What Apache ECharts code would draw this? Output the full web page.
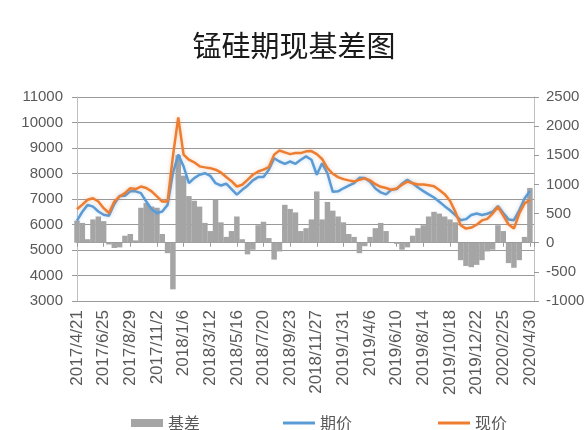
<!DOCTYPE html>
<html><head><meta charset="utf-8">
<script src="https://cdn.jsdelivr.net/npm/echarts@6/dist/echarts.min.js"></script>
<style>html,body{margin:0;padding:0;background:#fff}#c{width:588px;height:430px}</style>
</head><body><div id="c"></div>
<script>
const dates = ['2017/4/21','2017/5/4','2017/5/17','2017/5/30','2017/6/12','2017/6/25','2017/7/8','2017/7/21','2017/8/3','2017/8/16',
'2017/8/29','2017/9/11','2017/9/24','2017/10/7','2017/10/20','2017/11/2','2017/11/15','2017/11/28','2017/12/11','2017/12/24',
'2018/1/6','2018/1/19','2018/2/1','2018/2/14','2018/2/27','2018/3/12','2018/3/25','2018/4/7','2018/4/20','2018/5/3',
'2018/5/16','2018/5/29','2018/6/11','2018/6/24','2018/7/7','2018/7/20','2018/8/2','2018/8/15','2018/8/28','2018/9/10',
'2018/9/23','2018/10/6','2018/10/19','2018/11/1','2018/11/14','2018/11/27','2018/12/10','2018/12/23','2019/1/5','2019/1/18',
'2019/1/31','2019/2/13','2019/2/26','2019/3/11','2019/3/24','2019/4/6','2019/4/19','2019/5/2','2019/5/15','2019/5/28',
'2019/6/10','2019/6/23','2019/7/6','2019/7/19','2019/8/1','2019/8/14','2019/8/27','2019/9/9','2019/9/22','2019/10/5',
'2019/10/18','2019/10/31','2019/11/13','2019/11/26','2019/12/9','2019/12/22','2020/1/4','2020/1/17','2020/1/30','2020/2/12',
'2020/2/25','2020/3/9','2020/3/22','2020/4/4','2020/4/17','2020/4/30'];
const futures = [6150,6500,6770,6700,6510,6380,6340,6800,7120,7130,
7300,7300,7230,6900,6600,6450,6510,6770,8020,8740,
8280,7620,7820,7950,8010,7910,7620,7530,7600,7390,
7170,7360,7520,7730,7860,7860,8150,8600,8470,8380,
8470,8380,8540,8670,8540,7950,8400,8010,7280,7300,
7420,7520,7620,7830,7820,7680,7410,7260,7180,7360,
7390,7600,7750,7620,7450,7310,7180,7060,6890,6720,
6560,6370,6170,6210,6370,6430,6370,6420,6500,6720,
6450,6200,6170,6560,7020,7310];
const spot = [6600,6780,6970,7030,6900,6640,6450,6900,7100,7230,
7420,7390,7490,7430,7300,7100,6900,6900,8670,10200,
8740,8540,8440,8280,8240,8210,8150,8040,7860,7700,
7490,7560,7750,7950,8080,8150,8250,8740,8900,8830,
8760,8800,8800,8870,8880,8760,8570,8210,7990,7860,
7780,7730,7690,7750,7810,7730,7580,7480,7430,7360,
7410,7560,7680,7620,7570,7570,7540,7500,7350,7190,
6930,6500,5970,5840,5880,5990,6160,6220,6430,6690,
6350,6000,5840,6430,6830,6960];
const basis = [380,340,60,400,450,370,-30,-90,-80,120,
150,40,600,680,620,600,150,-180,-800,1500,
1150,800,720,620,340,200,740,350,100,200,
450,60,-200,-120,300,360,80,-290,-150,650,
580,520,200,250,400,880,400,700,550,450,
350,150,100,-180,-60,100,250,340,200,0,
-20,-120,-80,120,250,300,450,530,500,450,
400,350,-300,-400,-420,-380,-300,-150,-120,300,
200,-350,-430,-300,100,940];
const tickLabels = ['2017/4/21','2017/6/25','2017/8/29','2017/11/2','2018/1/6','2018/3/12','2018/5/16','2018/7/20','2018/9/23',
'2018/11/27','2019/1/31','2019/4/6','2019/6/10','2019/8/14','2019/10/18','2019/12/22','2020/2/25','2020/4/30'];
const seriesNames = ['基差','期价','现价'];

function dayOffset(s){
  const p = s.split('/').map(Number), q = dates[0].split('/').map(Number);
  return Math.round((Date.UTC(p[0],p[1]-1,p[2]) - Date.UTC(q[0],q[1]-1,q[2])) / 86400000);
}
const xs = dates.map(dayOffset);
const tickDays = tickLabels.map(dayOffset);
const pairs = arr => arr.map((v,i) => [xs[i], v]);
const legendText = { fontFamily:'Noto Sans CJK SC', fontSize:16, color:'#595959' };

const chart = echarts.init(document.getElementById('c'), null, {renderer:'canvas'});
chart.setOption({
  animation:false,
  backgroundColor:'#fff',
  title:{ text:'锰硅期现基差图', left:'center', top:31, padding:0,
    textStyle:{ fontFamily:'Noto Sans CJK SC', fontSize:29, fontWeight:'normal', color:'#1a1a1a' } },
  legend:[
    { left:131, top:415, padding:0, itemWidth:32, itemHeight:8, icon:'rect',
      textStyle:legendText, data:[seriesNames[0]] },
    { left:283, top:415, padding:0, itemGap:86, itemWidth:32, itemHeight:3, icon:'rect',
      textStyle:legendText, data:[seriesNames[1], seriesNames[2]] }
  ],
  grid:{ left:77, right:54, top:97, bottom:129 },
  xAxis:{ type:'value', min:0, max:1115, interval:65,
    axisLine:{ lineStyle:{ color:'#999' } },
    axisTick:{ show:true, length:4, lineStyle:{ color:'#999' } },
    splitLine:{ show:false },
    axisLabel:{ rotate:90, margin:9, color:'#595959', fontFamily:'Liberation Sans', fontSize:17,
      formatter: v => { const k = tickDays.indexOf(Math.round(v)); return k >= 0 ? tickLabels[k] : ''; } } },
  yAxis:[
    { type:'value', min:3000, max:11000, interval:1000, position:'left',
      axisLine:{ show:true, lineStyle:{ color:'#bfbfbf' } },
      axisTick:{ show:true, length:5, lineStyle:{ color:'#999' } },
      splitLine:{ lineStyle:{ color:'#999', width:1 } },
      axisLabel:{ margin:14, color:'#595959', fontFamily:'Liberation Sans', fontSize:15, formatter: v => String(v) } },
    { type:'value', min:-1000, max:2500, interval:500, position:'right',
      axisLine:{ show:true, lineStyle:{ color:'#bfbfbf' } },
      axisTick:{ show:true, length:5, lineStyle:{ color:'#999' } },
      splitLine:{ show:false },
      axisLabel:{ margin:12, color:'#595959', fontFamily:'Liberation Sans', fontSize:15, formatter: v => String(v) } }
  ],
  series:[
    { name:seriesNames[0], type:'bar', yAxisIndex:1, barWidth:5.5, data:pairs(basis),
      itemStyle:{ color:'#a5a5a5' } },
    { name:seriesNames[1], type:'line', yAxisIndex:0, symbol:'none', data:pairs(futures),
      lineStyle:{ color:'#5b9bd5', width:2.5, shadowColor:'rgba(91,155,213,0.35)', shadowBlur:4 },
      itemStyle:{ color:'#5b9bd5' } },
    { name:seriesNames[2], type:'line', yAxisIndex:0, symbol:'none', data:pairs(spot),
      lineStyle:{ color:'#ed7d31', width:2.5, shadowColor:'rgba(237,125,49,0.35)', shadowBlur:4 },
      itemStyle:{ color:'#ed7d31' } }
  ]
});
</script></body></html>
